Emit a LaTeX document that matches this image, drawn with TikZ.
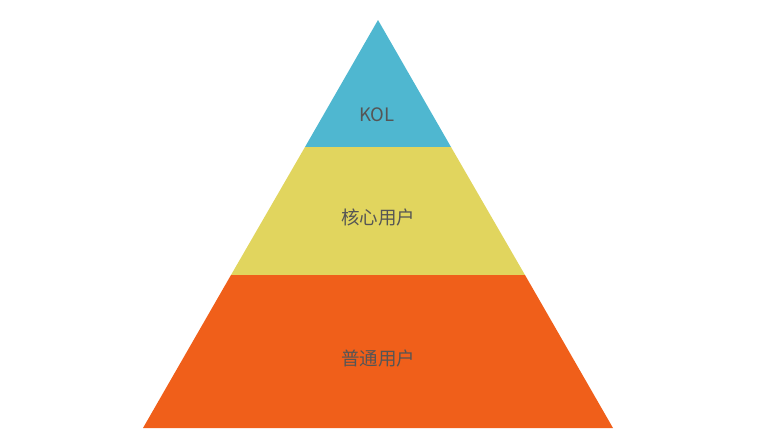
\documentclass[tikz,border=0pt]{standalone}
\usepackage{fontspec}
\setmainfont{Noto Sans CJK SC}
\begin{document}
\begin{tikzpicture}[x=1pt,y=-1pt]
\definecolor{kolblue}{HTML}{4FB7D0}
\definecolor{coreyellow}{HTML}{E1D55E}
\definecolor{baseorange}{HTML}{F05F1A}
\definecolor{labelgray}{HTML}{555555}

\tikzset{
  lay_s/.style = {draw=none},
  lab_s/.style = {align=center, inner sep=0pt, text centered,
    font=\fontsize{18.5}{21}\selectfont, text=labelgray}
}
\useasboundingbox (0,0) rectangle (763,445);

% layers, top to bottom
\fill [lay_s, kolblue] (378,20) -- (451,147) -- (305,147) -- cycle;
\fill [lay_s, coreyellow] (305,147) -- (451,147) -- (525,275) -- (231,275) -- cycle;
\fill [lay_s, baseorange] (231,275) -- (525,275) -- (613,428) -- (143,428) -- cycle;

\node [lab_s] (kol) at (377,115) {KOL};
\node [lab_s] (core) at (378,217) {核心用户};
\node [lab_s] (base) at (378,358) {普通用户};

\end{tikzpicture}
\end{document}
